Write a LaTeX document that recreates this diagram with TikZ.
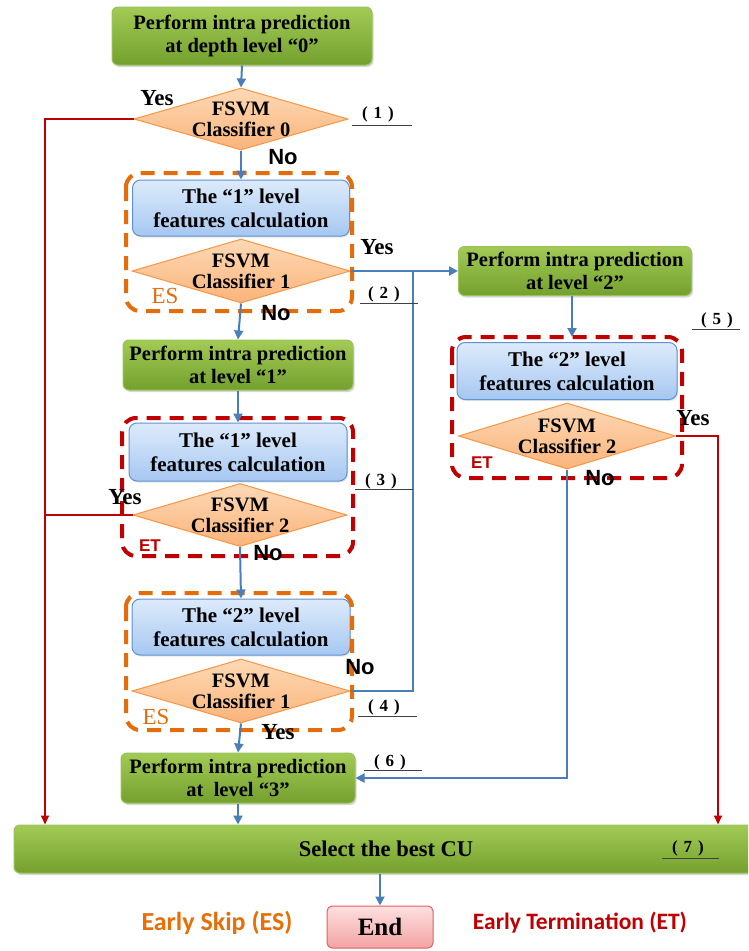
\documentclass[tikz,border=0pt]{standalone}
\usepackage{fontspec}
\setmainfont{Liberation Serif}
\newfontfamily\arialf{Liberation Sans}
\newfontfamily\carl{Carlito}
\usetikzlibrary{shapes.geometric,arrows.meta,shadows}
\definecolor{gtop}{HTML}{A2CB55}
\definecolor{gbot}{HTML}{74A02E}
\definecolor{gborder}{HTML}{9BC25A}
\definecolor{btop}{HTML}{DDEBFB}
\definecolor{bbot}{HTML}{A6C7F1}
\definecolor{bborder}{HTML}{5E93D3}
\definecolor{dtop}{HTML}{FDD9B6}
\definecolor{dbot}{HTML}{FAB47A}
\definecolor{dborder}{HTML}{F79646}
\definecolor{esc}{HTML}{E46C0A}
\definecolor{etc}{HTML}{C00000}
\definecolor{arrowc}{HTML}{4A7EBB}
\definecolor{etop}{HTML}{FDE0E0}
\definecolor{ebot}{HTML}{F4A3A3}
\definecolor{eborder}{HTML}{E06060}
\tikzset{
  gbox/.style={rounded corners=6pt, top color=gtop, bottom color=gbot, draw=gborder, line width=1pt,
    align=center, inner sep=0pt, font=\bfseries\fontsize{20.5}{23}\selectfont,
    drop shadow={opacity=0.3, shadow xshift=1.5pt, shadow yshift=-2pt}},
  bbox/.style={rounded corners=8pt, top color=btop, bottom color=bbot, draw=bborder, line width=1pt,
    align=center, inner sep=0pt, font=\bfseries\fontsize{21}{24}\selectfont,
    drop shadow={opacity=0.2, shadow xshift=1pt, shadow yshift=-1.5pt}},
  dia/.style={diamond, top color=dtop, bottom color=dbot, draw=dborder, line width=1pt, inner sep=0pt},
  dtext/.style={align=center, inner sep=0pt, font=\bfseries\fontsize{20.5}{21}\selectfont},
  esbox/.style={draw=esc, line width=4pt, dash pattern=on 14pt off 9pt, rounded corners=14pt},
  etbox/.style={draw=etc, line width=4pt, dash pattern=on 14pt off 9pt, rounded corners=14pt},
  barrow/.style={draw=arrowc, line width=2pt, -{Triangle[length=9pt,width=9pt]}},
  bline/.style={draw=arrowc, line width=2pt},
  rarrow/.style={draw=etc, line width=2pt, -{Triangle[length=9pt,width=8pt]}},
  rline/.style={draw=etc, line width=2pt},
  yeslbl/.style={font=\bfseries\fontsize{23}{23}\selectfont, inner sep=0pt},
  nolbl/.style={font=\arialf\bfseries\fontsize{22}{22}\selectfont, inner sep=0pt},
  eslbl/.style={font=\fontsize{23}{23}\selectfont, text=esc, inner sep=0pt},
  etlbl/.style={font=\arialf\bfseries\fontsize{17}{17}\selectfont, text=etc, inner sep=0pt},
  numlbl/.style={font=\bfseries\fontsize{17}{17}\selectfont, inner sep=0pt},
  uline/.style={draw=black!75, line width=1pt}
}
\newcommand{\numtag}[1]{(\kern6pt#1\kern6pt)}
\begin{document}
\begin{tikzpicture}[x=1pt,y=-1pt]
\clip (0,0) rectangle (748,951);
\fill[white] (0,0) rectangle (748,951);

% green process boxes
\node[gbox, minimum width=260pt, minimum height=58pt] (p0) at (242,36) {Perform intra prediction\\at depth level “0”};
\node[gbox, minimum width=230pt, minimum height=50pt] (p1) at (238,365) {Perform intra prediction\\at level “1”};
\node[gbox, minimum width=233pt, minimum height=49pt] (p2) at (575,271) {Perform intra prediction\\at level “2”};
\node[gbox, minimum width=234pt, minimum height=50pt] (p3) at (238,778) {Perform intra prediction\\at\ \ level “3”};
\node[gbox, minimum width=746pt, minimum height=48pt] (sel) at (387,849) {};
\node[font=\bfseries\fontsize{22.5}{22.5}\selectfont, inner sep=0pt] (seltxt) at (386,849) {Select the best CU};

% blue feature boxes
\node[bbox, minimum width=217pt, minimum height=56pt] (b1) at (241,208) {The “1” level\\features calculation};
\node[bbox, minimum width=218pt, minimum height=58pt] (b2) at (238,452) {The “1” level\\features calculation};
\node[bbox, minimum width=218pt, minimum height=56pt] (b3) at (241,627) {The “2” level\\features calculation};
\node[bbox, minimum width=220pt, minimum height=57pt] (b4) at (567,371) {The “2” level\\features calculation};

% diamonds
\node[dia, minimum width=214pt, minimum height=62pt] (d0) at (241,119) {};
\node[dtext] (t0) at (d0) {FSVM\\Classifier 0};
\node[dia, minimum width=218pt, minimum height=64pt] (d1) at (241,271) {};
\node[dtext] (t1) at (d1) {FSVM\\Classifier 1};
\node[dia, minimum width=214pt, minimum height=63pt] (d2) at (240,515) {};
\node[dtext] (t2) at (d2) {FSVM\\Classifier 2};
\node[dia, minimum width=218pt, minimum height=64pt] (d3) at (241,691) {};
\node[dtext] (t3) at (d3) {FSVM\\Classifier 1};
\node[dia, minimum width=217pt, minimum height=66pt] (d4) at (567,436) {};
\node[dtext] (t4) at (d4) {FSVM\\Classifier 2};

% End box
\node[rounded corners=5pt, top color=etop, bottom color=ebot, draw=eborder, line width=1pt,
  minimum width=106pt, minimum height=42pt, inner sep=0pt, font=\bfseries\fontsize{25}{25}\selectfont] (end) at (380,927) {End};

% dashed group boxes
\draw[esbox] (126,173) rectangle (352,311);
\draw[etbox] (122,418) rectangle (353,556);
\draw[esbox] (126,593) rectangle (352,730);
\draw[etbox] (452,337) rectangle (682,478);

% helper coordinates
\coordinate (lx) at (45,0);
\coordinate (rx) at (718,0);
\coordinate (jx) at (413,0);
\coordinate (p2s) at (572,296);

% blue connectors
\draw[barrow] (p0.south) -- (d0.north);
\draw[barrow] (d0.south) -- (b1.north);
\draw[barrow] (d1.south) -- (p1.north);
\draw[barrow] (p1.south) -- (b2.north);
\draw[barrow] (d2.south) -- (b3.north);
\draw[barrow] (d3.south) -- (p3.north);
\draw[barrow] (p3.south) -- (p3.south |- sel.north);
\draw[barrow] (end.north |- sel.south) -- (end.north);
\draw[barrow] (d1.east) -- (p2.west);
\draw[bline] (d3.east) -| (jx |- d1.east);
\draw[barrow, shorten >=5pt] (p2s) -- (p2s |- b4.north);
\draw[barrow] (d4.south) |- (p3.east);

% red connectors
\draw[rarrow] (d0.west) -| (lx |- sel.north);
\draw[rline] (d2.west) -- (d2.west -| lx);
\draw[rarrow] (d4.east) -| (rx |- sel.north);

% Yes / No labels
\node[yeslbl] (y0) at (157,98) {Yes};
\node[nolbl] (n0) at (283,157) {No};
\node[yeslbl] (y1) at (377,247) {Yes};
\node[nolbl] (n1) at (276,313) {No};
\node[yeslbl] (y2) at (125,497) {Yes};
\node[nolbl] (n2) at (268,553) {No};
\node[nolbl] (n3) at (360,667) {No};
\node[yeslbl] (y3) at (278,732) {Yes};
\node[yeslbl] (y4) at (693,418) {Yes};
\node[nolbl] (n4) at (600,478) {No};

% ES / ET tags
\node[eslbl] (es1) at (165,296) {ES};
\node[etlbl] (et1) at (150,546) {ET};
\node[eslbl] (es2) at (156,717) {ES};
\node[etlbl] (et2) at (482,463) {ET};

% numbered tags
\node[numlbl] (c1) at (378,114) {\numtag{1}};
\draw[uline] (352,125) -- (412,125);
\node[numlbl] (c2) at (384,294) {\numtag{2}};
\draw[uline] (360,303) -- (418,303);
\node[numlbl] (c3) at (381,481) {\numtag{3}};
\draw[uline] (355,489) -- (413,489);
\node[numlbl] (c4) at (384,707) {\numtag{4}};
\draw[uline] (358,716) -- (417,716);
\node[numlbl] (c5) at (717,320) {\numtag{5}};
\draw[uline] (692,329) -- (740,329);
\node[numlbl] (c6) at (390,762) {\numtag{6}};
\draw[uline] (364,770) -- (422,770);
\node[numlbl] (c7) at (688,848) {\numtag{7}};
\draw[uline] (662,858) -- (719,858);

% legend
\node[font=\carl\bfseries\fontsize{26}{26}\selectfont, text=esc!85!orange, inner sep=0pt] (les) at (217,923) {Early Skip (ES)};
\node[font=\carl\bfseries\fontsize{23.5}{23.5}\selectfont, text=etc, inner sep=0pt] (let) at (580,923) {Early Termination (ET)};
\end{tikzpicture}
\end{document}
